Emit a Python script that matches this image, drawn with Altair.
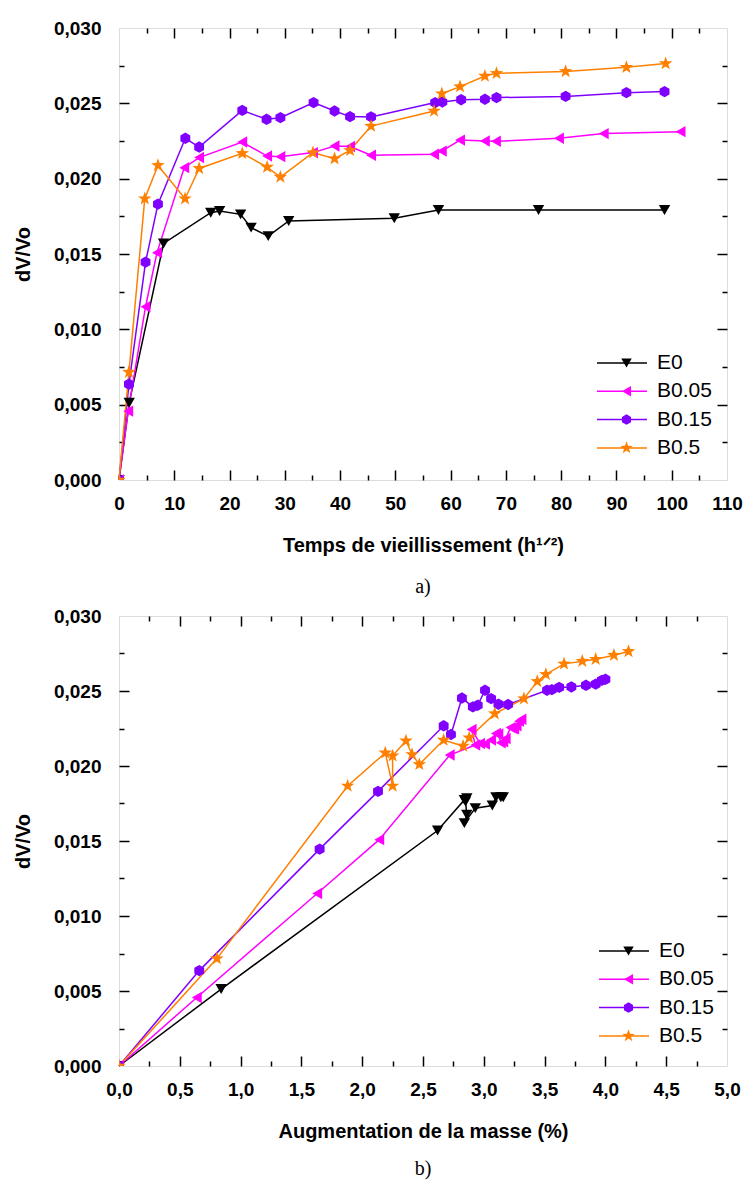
import altair as alt
import pandas as pd

# ---------------- data ----------------
series = ["E0", "B0.05", "B0.15", "B0.5"]
colors = ["#000000", "#FF00FF", "#8000FF", "#FF8000"]

# time of ageing (h^1/2) -- panel a)
e0_t = [0, 1.85, 8.06, 16.6, 18.2, 22.0, 23.9, 27.0, 30.7, 49.8, 57.8, 75.9, 98.7]
b005_t = [0, 1.67, 4.8, 6.87, 11.8, 14.5, 22.3, 26.8, 29.2, 35.1, 39.0, 41.8, 45.6,
          57.0, 58.4, 61.7, 66.2, 68.2, 79.6, 87.7, 101.6]
b015_t = [0, 1.8, 4.8, 7.05, 12.0, 14.5, 22.3, 26.7, 29.2, 35.2, 39.0, 41.8, 45.6,
          57.2, 58.5, 61.9, 66.2, 68.3, 80.8, 91.8, 98.7]
b05_t = [0, 1.8, 4.66, 7.05, 11.95, 14.5, 22.3, 26.8, 29.2, 35.1, 39.0, 41.8, 45.6,
         57.0, 58.4, 61.7, 66.2, 68.3, 80.8, 91.8, 98.9]

# mass increase (%) -- panel b)
e0_m = [0, 0.84, 2.62, 2.84, 2.86, 2.85, 2.86, 2.84, 2.93, 3.07, 3.10, 3.14, 3.16]
b005_m = [0, 0.64, 1.63, 2.14, 2.72, 2.93, 2.90, 2.97, 3.01, 3.06, 3.10, 3.12, 3.14,
          3.16, 3.18, 3.22, 3.24, 3.25, 3.27, 3.29, 3.31]
b015_m = [0, 0.66, 1.65, 2.13, 2.67, 2.73, 2.82, 2.91, 2.95, 3.01, 3.06, 3.12, 3.20,
          3.52, 3.56, 3.62, 3.72, 3.84, 3.92, 3.97, 4.00]
b05_m = [0, 0.805, 1.88, 2.19, 2.25, 2.25, 2.36, 2.41, 2.47, 2.67, 2.83, 2.88, 3.09,
         3.33, 3.44, 3.51, 3.66, 3.81, 3.92, 4.07, 4.19]

# dV/Vo
e0_v = [0, 0.00513, 0.0157, 0.01774, 0.01785, 0.01763, 0.01675, 0.01619, 0.01719,
        0.01737, 0.01792, 0.01792, 0.01792]
b005_v = [0, 0.00457, 0.0115, 0.01509, 0.02073, 0.0214, 0.02243, 0.0215, 0.02146,
          0.02173, 0.02217, 0.02213, 0.02155, 0.02162, 0.02183, 0.02256, 0.0225,
          0.02248, 0.02268, 0.02299, 0.02312]
b015_v = [0, 0.00636, 0.01446, 0.01831, 0.02268, 0.0221, 0.02453, 0.02394, 0.02405,
          0.02505, 0.02449, 0.02412, 0.0241, 0.02505, 0.02509, 0.02524, 0.02527,
          0.02538, 0.02546, 0.02571, 0.02578]
b05_v = [0, 0.00716, 0.01867, 0.02088, 0.01867, 0.02068, 0.02168, 0.02077, 0.02011,
         0.02173, 0.02133, 0.02188, 0.02349, 0.02449, 0.02564, 0.02611, 0.02681,
         0.02699, 0.02712, 0.02739, 0.02764]

t_major = list(range(10, 110, 10))
t_minor = list(range(5, 110, 10))
m_major = [0.5, 1.0, 1.5, 2.0, 2.5, 3.0, 3.5, 4.0, 4.5]
m_minor = [0.25, 0.75, 1.25, 1.75, 2.25, 2.75, 3.25, 3.75, 4.25, 4.75]
y_major = [0.005, 0.010, 0.015, 0.020, 0.025]
y_minor = [0.0025, 0.0075, 0.0125, 0.0175, 0.0225, 0.0275]
t_labels = list(range(0, 111, 10))
m_labels = [0.0, 0.5, 1.0, 1.5, 2.0, 2.5, 3.0, 3.5, 4.0, 4.5, 5.0]
y_labels = [0.0, 0.005, 0.010, 0.015, 0.020, 0.025, 0.030]

HEX = "M0,-1L0.866,-0.5L0.866,0.5L0,1L-0.866,0.5L-0.866,-0.5Z"
STAR = ("M0,-1.25L0.295,-0.406L1.189,-0.386L0.477,0.155L0.735,1.011L0,0.5"
        "L-0.735,1.011L-0.477,0.155L-1.189,-0.386L-0.295,-0.406Z")
shapes = ["triangle-down", "triangle-left", HEX, STAR]

rows = []
for name, ts, ms, vs in [("E0", e0_t, e0_m, e0_v), ("B0.05", b005_t, b005_m, b005_v),
                         ("B0.15", b015_t, b015_m, b015_v), ("B0.5", b05_t, b05_m, b05_v)]:
    for i, (t, m, v) in enumerate(zip(ts, ms, vs)):
        rows.append({"serie": name, "serie_l": name, "i": i, "t": t, "m": m, "v": v})
df = pd.DataFrame(rows)

FONT = "Liberation Sans"
SERIF = "Liberation Serif"


def tick_axis(orient, offset, values, size):
    return alt.Axis(orient=orient, offset=offset, values=values, tickSize=size,
                    tickWidth=1.5, tickColor="black", labels=False, domain=False,
                    grid=False, title=None)


def panel(xfield, xtitle, xmax, xlabels, xmajor, xminor, xexpr, caption, lx, ly, w, h, cap_off):
    xs = alt.Scale(domain=[0, xmax], nice=False, zero=False)
    ys = alt.Scale(domain=[0, 0.03], nice=False, zero=False)
    base = alt.Chart(df)

    x_lab = alt.Axis(orient="bottom", values=xlabels, labelExpr=xexpr, ticks=False,
                     tickSize=0, domain=False, grid=False, labelFont=FONT,
                     labelFontWeight="bold", labelFontSize=19, labelColor="black",
                     labelPadding=14, labelFlush=False, labelOverlap=False,
                     title=xtitle, titleFont=FONT, titleFontWeight="bold",
                     titleFontSize=20, titleColor="black", titlePadding=22)
    y_lab = alt.Axis(orient="left", values=y_labels,
                     labelExpr="replace(format(datum.value, '.3f'), '.', ',')",
                     ticks=False, tickSize=0, domain=False, grid=False, labelFont=FONT,
                     labelFontWeight="bold", labelFontSize=19, labelColor="black",
                     labelPadding=18, labelFlush=False, labelOverlap=False,
                     title="dV/Vo", titleFont=FONT, titleFontWeight="bold",
                     titleFontSize=20, titleColor="black", titlePadding=20)

    line_legend = alt.Legend(orient="none", legendX=lx, legendY=ly, title=None,
                             symbolType="stroke", symbolSize=2500, symbolStrokeWidth=1.5,
                             labelFont=FONT, labelFontSize=21, labelColor="black",
                             labelOffset=9, clipHeight=26, rowPadding=2.3, padding=0)
    mk_legend = alt.Legend(orient="none", legendX=lx, legendY=ly, title=None,
                           symbolSize=110, symbolOffset=20, labelExpr="''",
                           labelFont=FONT, labelFontSize=21, labelOffset=9,
                           clipHeight=26, rowPadding=2.3, padding=0, zindex=2)

    def ticks_layer(xo, yo, xv, yv, size):
        return base.mark_point(opacity=0).encode(
            x=alt.X(f"{xfield}:Q", scale=xs, axis=tick_axis(xo, -h, xv, size)),
            y=alt.Y("v:Q", scale=ys, axis=tick_axis(yo, -w, yv, size)),
        )

    lines = base.mark_line(strokeWidth=1.5).encode(
        x=alt.X(f"{xfield}:Q", scale=xs, axis=x_lab),
        y=alt.Y("v:Q", scale=ys, axis=y_lab),
        stroke=alt.Stroke("serie_l:N", sort=series, scale=alt.Scale(range=colors),
                          legend=line_legend),
        order=alt.Order("i:Q"),
    )
    points = base.mark_point(filled=True, size=130, opacity=1, clip=True).encode(
        x=alt.X(f"{xfield}:Q", scale=xs, axis=None),
        y=alt.Y("v:Q", scale=ys, axis=None),
        fill=alt.Fill("serie:N", scale=alt.Scale(domain=series, range=colors),
                      legend=mk_legend),
        shape=alt.Shape("serie:N", scale=alt.Scale(domain=series, range=shapes),
                        legend=mk_legend),
    )
    layers = [
        ticks_layer("top", "right", xmajor, y_major, 10),
        ticks_layer("bottom", "left", xmajor, y_major, 10),
        ticks_layer("top", "right", xminor, y_minor, 5),
        ticks_layer("bottom", "left", xminor, y_minor, 5),
        lines,
        points,
    ]
    return alt.layer(*layers).resolve_axis(x="independent", y="independent").properties(
        width=w, height=h,
        title=alt.TitleParams(caption, orient="bottom", anchor="middle", font=SERIF,
                              fontSize=20, fontWeight="normal", color="black",
                              offset=cap_off),
    )


top = panel("t", "Temps de vieillissement (h¹ᐟ²)", 110, t_labels, t_major, t_minor,
            "format(datum.value, 'd')", "a)", 477, 322, 608, 452, 22)
bottom = panel("m", "Augmentation de la masse (%)", 5, m_labels, m_major, m_minor,
               "replace(format(datum.value, '.1f'), '.', ',')", "b)", 479, 322, 608, 450, 18)

chart = alt.vconcat(top, bottom, spacing=8).resolve_scale(
    x="independent", y="independent", stroke="independent", fill="independent",
    shape="independent",
).resolve_legend(stroke="independent", fill="independent", shape="independent").configure_view(
    stroke="black", strokeWidth=2
).configure(background="white", padding={"left": 4, "top": 10, "right": 0, "bottom": 0})

chart.save("out.html", embed_options={"renderer": "svg", "actions": False})
